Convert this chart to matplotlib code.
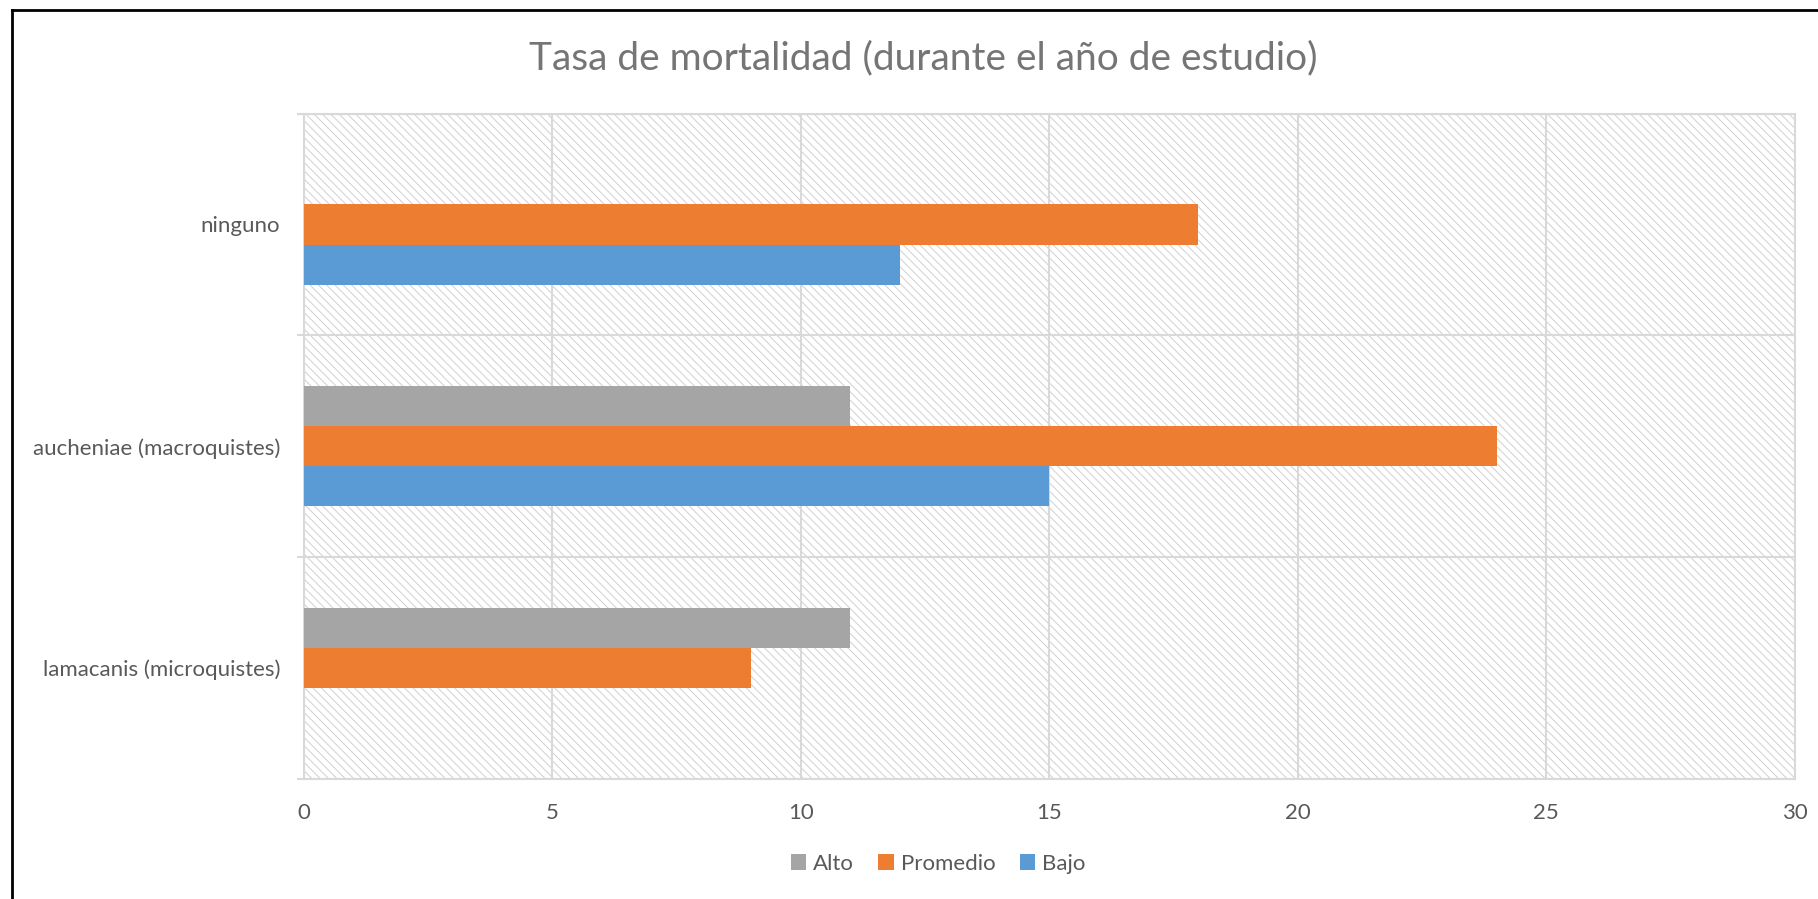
import numpy as np
import matplotlib
matplotlib.use("Agg")
import matplotlib.pyplot as plt
from matplotlib.patches import Rectangle
from matplotlib.lines import Line2D

plt.rcParams['font.family'] = ['Lato', 'DejaVu Sans']
plt.rcParams['hatch.linewidth'] = 0.7

# categories listed bottom to top, as barh draws them
categorias = ['lamacanis (microquistes)', 'aucheniae (macroquistes)', 'ninguno']
series = ['Alto', 'Promedio', 'Bajo']
alto = [11, 11, 0]
promedio = [9, 24, 18]
bajo = [0, 15, 12]
colores = ['#a5a5a5', '#ed7d31', '#5b9bd5']
x_ticks = [0, 5, 10, 15, 20, 25, 30]

texto = '#595959'
rejilla = '#d9d9d9'

fig = plt.figure(figsize=(18.18, 8.99), dpi=100)
ax = fig.add_axes([0.1671, 0.1335, 0.8201, 0.7402])

y = np.arange(len(categorias))
h = 0.181
valores = [alto, promedio, bajo]
offsets = [h, 0, -h]
for nombre, vals, off, col in zip(series, valores, offsets, colores):
    ax.barh(y + off, vals, height=h, color=col, label=nombre, zorder=3)

# hatched plot area background
ax.add_patch(Rectangle((0, 0), 1, 1, transform=ax.transAxes, facecolor='white',
                       edgecolor='#d0d0d0', linewidth=0, hatch='\\\\\\\\', zorder=0.1))

ax.set_xlim(0, 30)
ax.set_ylim(-0.5, 2.5)
ax.set_xticks(x_ticks)
ax.set_xticklabels([str(t) for t in x_ticks])
ax.set_yticks(y)
ax.set_yticklabels(categorias)
ax.set_yticks(np.arange(-0.5, 3, 1), minor=True)

ax.set_axisbelow(True)
ax.grid(axis='x', color=rejilla, linewidth=1.5, zorder=0.5)
ax.grid(axis='y', which='minor', color=rejilla, linewidth=1.5, zorder=0.5)
ax.grid(axis='y', which='major', visible=False)

ax.tick_params(axis='x', length=0, pad=17, labelsize=16, labelcolor=texto)
ax.tick_params(axis='y', which='major', length=0, pad=17, labelsize=16, labelcolor=texto)
ax.tick_params(axis='y', which='minor', length=5, width=1.5, color=rejilla)

for s in ax.spines.values():
    s.set_color(rejilla)
    s.set_linewidth(1.5)

fig.text(0.508, 0.935, 'Tasa de mortalidad (durante el año de estudio)',
         ha='center', va='center', fontsize=28, color='#757575')

ax.legend(loc='center', bbox_to_anchor=(0.516, 0.039), bbox_transform=fig.transFigure,
          ncol=3, frameon=False, fontsize=16, handlelength=0.7, handleheight=0.7,
          handletextpad=0.3, columnspacing=1.1, labelcolor=texto)

# chart frame on the left and top edges
fig.add_artist(Line2D([0.0066, 0.0066], [0, 0.989], transform=fig.transFigure,
                      color='black', linewidth=2))
fig.add_artist(Line2D([0.0066, 1], [0.989, 0.989], transform=fig.transFigure,
                      color='black', linewidth=2))

fig.savefig('out.png', dpi=100)
